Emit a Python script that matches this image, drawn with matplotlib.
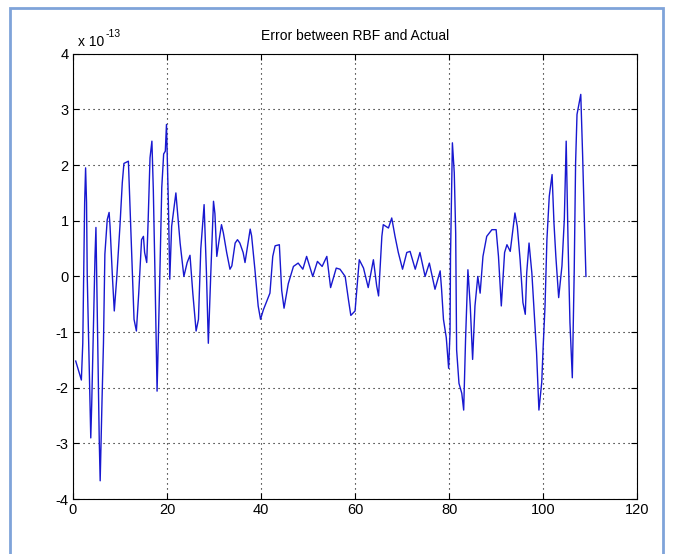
import numpy as np
import matplotlib
matplotlib.use("Agg")
import matplotlib.pyplot as plt
from matplotlib.patches import Rectangle

plt.rcParams['font.family'] = ['Liberation Sans Narrow', 'Liberation Sans', 'DejaVu Sans']
plt.rcParams['axes.unicode_minus'] = False

# sample positions and error values (units of 1e-13)
x = [0.6, 1.8, 2.1, 2.5, 2.7, 2.9, 3.05, 3.8, 4.0, 4.7, 4.9, 5.6, 5.8, 6.2, 6.5, 6.8,
     7.3, 7.7, 7.9, 8.4, 8.8, 9.3, 10.0, 10.5, 10.85, 11.8, 12.5, 13.0, 13.5, 14.0,
     14.6, 15.0, 15.25, 15.7, 16.0, 16.4, 16.8, 17.1, 17.45, 17.9, 18.4, 18.9, 19.3,
     19.65, 19.9, 20.3, 20.6, 21.0, 21.9, 22.8, 23.6, 24.3, 24.9, 25.5, 26.2, 26.7,
     27.2, 27.9, 28.4, 28.8, 29.3, 29.9, 30.2, 30.6, 31.0, 31.6, 32.0, 32.7, 33.4,
     33.8, 34.5, 35.0, 35.5, 36.2, 36.6, 37.7, 38.0, 38.7, 39.4, 39.9, 40.5, 41.2,
     41.9, 42.5, 43.0, 43.9, 44.4, 44.9, 45.8, 46.9, 47.9, 48.9, 49.7, 51.0, 52.0,
     53.0, 54.0, 54.8, 56.0, 56.8, 57.9, 58.6, 59.1, 60.0, 60.9, 61.8, 62.8, 63.9,
     64.6, 65.0, 65.7, 66.0, 67.1, 67.8, 68.5, 69.2, 70.1, 71.0, 71.7, 72.8, 73.8,
     74.9, 75.8, 77.0, 78.1, 78.4, 78.8, 79.4, 79.9, 80.2, 80.3, 80.7, 81.1, 81.4,
     81.6, 82.1, 82.7, 83.1, 83.5, 84.0, 84.5, 85.0, 85.5, 86.1, 86.6, 87.2, 88.0,
     89.1, 90.0, 90.5, 91.1, 91.8, 92.3, 93.0, 94.0, 94.5, 95.1, 95.7, 96.2, 96.5,
     97.0, 97.6, 98.1, 98.6, 99.1, 99.7, 100.0, 100.4, 100.8, 101.3, 101.9, 102.3,
     102.7, 103.3, 104.0, 104.5, 104.9, 105.3, 105.7, 106.2, 106.6, 106.9, 107.2,
     108.0, 108.4, 108.7, 109.1]
err = [-1.52, -1.86, -1.2, 1.33, 1.95, 1.33, 0.0, -2.9, -2.3, 0.36, 0.88, -2.93, -3.67,
       -2.2, -1.2, 0.4, 1.02, 1.15, 0.9, 0.0, -0.62, -0.05, 0.9, 1.68, 2.03, 2.07, 0.39,
       -0.77, -0.98, -0.3, 0.66, 0.72, 0.43, 0.25, 1.0, 2.13, 2.43, 1.56, 0.06, -2.06,
       -0.3, 1.6, 2.2, 2.25, 2.73, 1.33, -0.05, 0.9, 1.5, 0.6, 0.0, 0.25, 0.38, -0.3,
       -0.98, -0.77, 0.5, 1.29, 0.06, -1.2, 0.0, 1.35, 1.13, 0.36, 0.6, 0.93, 0.78, 0.43,
       0.13, 0.19, 0.6, 0.66, 0.6, 0.43, 0.25, 0.85, 0.73, 0.13, -0.53, -0.77, -0.6,
       -0.45, -0.3, 0.36, 0.55, 0.57, -0.25, -0.57, -0.13, 0.18, 0.24, 0.13, 0.36, 0.0,
       0.27, 0.18, 0.36, -0.2, 0.15, 0.13, 0.0, -0.42, -0.7, -0.62, 0.3, 0.15, -0.2,
       0.3, -0.17, -0.35, 0.72, 0.93, 0.87, 1.05, 0.72, 0.43, 0.13, 0.43, 0.45, 0.13,
       0.43, 0.0, 0.24, -0.23, 0.1, -0.23, -0.77, -1.1, -1.65, -1.0, 0.36, 2.4, 1.86,
       0.78, -1.32, -1.92, -2.1, -2.4, -1.13, 0.12, -0.53, -1.49, -0.53, 0.0, -0.3, 0.36,
       0.72, 0.84, 0.84, 0.36, -0.53, 0.43, 0.57, 0.45, 1.14, 0.9, 0.3, -0.47, -0.68,
       0.06, 0.6, 0.06, -0.65, -1.37, -2.4, -1.9, -1.27, -0.53, 0.66, 1.44, 1.83, 0.96,
       0.36, -0.38, 0.19, 1.02, 2.43, 0.6, -0.83, -1.82, 0.06, 2.04, 2.91, 3.27, 2.16,
       1.2, 0.0]

x_ticks = [0, 20, 40, 60, 80, 100, 120]
y_ticks = [-4, -3, -2, -1, 0, 1, 2, 3, 4]

fig = plt.figure(figsize=(6.75, 5.54), dpi=100)
fig.patch.set_facecolor('white')
ax = fig.add_axes([0.108, 0.099, 0.836, 0.804])

ax.plot(x, err, color='#1818d0', linewidth=1.0)

ax.set_xlim(0, 120)
ax.set_ylim(-4, 4)
ax.set_xticks(x_ticks)
ax.set_yticks(y_ticks)
ax.tick_params(direction='in', top=True, right=True, labelsize=10.5, length=4, pad=3)
ax.grid(True, linestyle=(0, (1, 3.5)), color='black', linewidth=0.8)
for s in ax.spines.values():
    s.set_linewidth(0.8)

ax.set_title('Error between RBF and Actual', fontsize=10, pad=10)
# multiplier label, drawn as plain text so the minus stays a hyphen
fig.text(0.115, 0.912, 'x 10', fontsize=10, ha='left', va='bottom')
fig.text(0.156, 0.929, '-13', fontsize=7.5, ha='left', va='bottom')

# screenshot frame
fig.patches.append(Rectangle((10 / 675, -0.05), 653 / 675, 1 - 8 / 554 + 0.05,
                             transform=fig.transFigure, fill=False,
                             edgecolor='#7fa3d9', linewidth=2))

fig.savefig('out.png', dpi=100)
